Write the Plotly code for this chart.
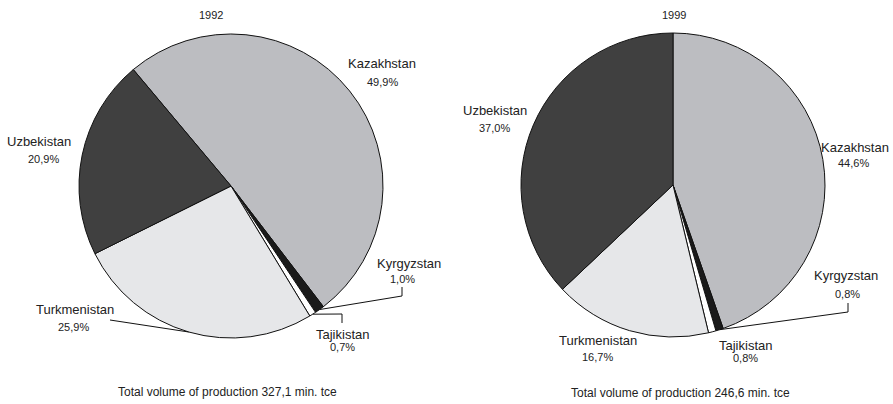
import math
import plotly.graph_objects as go

# ---- data ----
countries = ["Kazakhstan", "Kyrgyzstan", "Tajikistan", "Turkmenistan", "Uzbekistan"]
share_1992 = [49.9, 1.0, 0.7, 25.9, 20.9]
share_1999 = [44.6, 0.8, 0.8, 16.7, 37.0]
years = ["1992", "1999"]
totals = ["327,1", "246,6"]

# ---- style ----
colors = ["#bcbdc1", "#1a1a1a", "#ffffff", "#e6e7e9", "#404040"]
W, H = 893, 404
FONT = "Liberation Sans, Arial, sans-serif"
TXT = "#222222"

pies = [
    dict(values=share_1992, year=years[0], total=totals[0], cx=231, cy=186, r=152, rotation=-40,
         title_pos=(211, 15), total_pos=(228, 392),
         labels={
             "Kazakhstan": ((382, 63), (382, 82), None),
             "Kyrgyzstan": ((409, 263), (402, 279), [(402, 296), (402, 287)]),
             "Tajikistan": ((342, 334), (342, 347), [(342, 314), (342, 323)]),
             "Turkmenistan": ((75, 309), (73, 327), [(110, 320)]),
             "Uzbekistan": ((39, 141), (43, 159), None),
         }),
    dict(values=share_1999, year=years[1], total=totals[1], cx=673, cy=185, r=152, rotation=0,
         title_pos=(674, 15), total_pos=(680, 393),
         labels={
             "Kazakhstan": ((891, 147, "right"), (853, 163), None),
             "Kyrgyzstan": ((846, 275), (847, 294), [(848, 312), (848, 303)]),
             "Tajikistan": ((745, 345), (745, 358), None),
             "Turkmenistan": ((598, 340), (597, 357), None),
             "Uzbekistan": ((495, 110), (495, 128), None),
         }),
]


def px(x):
    return x / W


def py(y):
    return 1 - y / H


fig = go.Figure()
annotations = []
shapes = []

for p in pies:
    cx, cy, r = p["cx"], p["cy"], p["r"]
    fig.add_trace(go.Pie(
        labels=countries,
        values=p["values"],
        sort=False,
        direction="clockwise",
        rotation=p["rotation"],
        marker=dict(colors=colors, line=dict(color="#111111", width=1)),
        textinfo="none",
        hoverinfo="label+percent",
        showlegend=False,
        domain=dict(x=[px(cx - r), px(cx + r)], y=[py(cy + r), py(cy - r)]),
    ))
    # year title
    annotations.append(dict(x=px(p["title_pos"][0]), y=py(p["title_pos"][1]), xref="paper", yref="paper",
                            text=p["year"], showarrow=False, xanchor="center", yanchor="middle",
                            font=dict(size=11, color=TXT, family=FONT)))
    annotations.append(dict(x=px(p["total_pos"][0]), y=py(p["total_pos"][1]), xref="paper", yref="paper",
                            text=f"Total volume of production {p['total']} min. tce", showarrow=False,
                            xanchor="center", yanchor="middle",
                            font=dict(size=12, color=TXT, family=FONT)))
    tot = sum(p["values"])
    cum = 0.0
    for name, v in zip(countries, p["values"]):
        mid = p["rotation"] + 360.0 * (cum + v / 2) / tot
        cum += v
        name_pos, pct_pos, leader = p["labels"][name]
        anchor = name_pos[2] if len(name_pos) > 2 else "center"
        annotations.append(dict(x=px(name_pos[0]), y=py(name_pos[1]), xref="paper", yref="paper",
                                text=name, showarrow=False, xanchor=anchor, yanchor="middle",
                                font=dict(size=13, color=TXT, family=FONT)))
        pct = f"{v:.1f}".replace(".", ",") + "%"
        annotations.append(dict(x=px(pct_pos[0]), y=py(pct_pos[1]), xref="paper", yref="paper",
                                text=pct, showarrow=False, xanchor="center", yanchor="middle",
                                font=dict(size=11, color=TXT, family=FONT)))
        if leader:
            th = math.radians(mid)
            sx = cx + r * math.sin(th)
            sy = cy - r * math.cos(th)
            pts = [(sx, sy)] + leader
            path = "M " + " L ".join(f"{px(a):.5f},{py(b):.5f}" for a, b in pts)
            shapes.append(dict(type="path", xref="paper", yref="paper", path=path,
                               line=dict(color="#111111", width=1)))

fig.update_layout(
    width=W, height=H,
    margin=dict(l=0, r=0, t=0, b=0),
    paper_bgcolor="white",
    plot_bgcolor="white",
    annotations=annotations,
    shapes=shapes,
)

fig.write_html("out.html", config={"displayModeBar": False},
               post_script="document.body.style.margin='0';document.body.style.overflow='hidden';")
